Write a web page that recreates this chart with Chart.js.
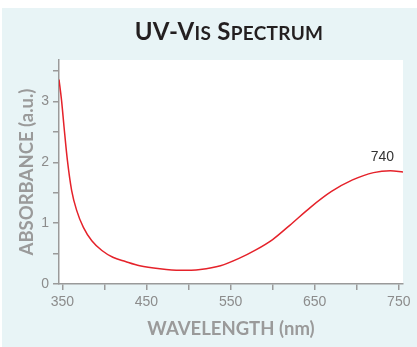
<!DOCTYPE html>
<html>
<head>
<meta charset="utf-8">
<script src="https://cdn.jsdelivr.net/npm/chart.js@4.4.0/dist/chart.umd.min.js"></script>
<style>
    body { margin: 0; background: #fff; }
    .wrap { position: relative; width: 417px; height: 347px; }
    .chart-title {
        position: absolute; left: 229px; top: 19px; transform: translateX(-50%);
        font-family: Lato, "Open Sans", sans-serif; font-weight: 700; font-size: 24px;
        line-height: 1; color: #231f20; white-space: nowrap; letter-spacing: 0.3px;
    }
    .chart-title .sc { font-size: 19px; }
</style>
</head>
<body>
<div class="wrap">
    <canvas id="uvChart" width="417" height="347"></canvas>
    <div class="chart-title">UV-V<span class="sc">IS</span> S<span class="sc">PECTRUM</span></div>
</div>
<script>
// spectrum
const wavelengths = [346, 349, 352, 356, 361, 367, 375, 385, 397, 410, 425, 442, 466, 490, 514, 538, 560, 580, 600, 620, 645, 670, 695, 720, 740, 755];
const absorbance = [3.36, 3.02, 2.58, 2.03, 1.54, 1.21, 0.93, 0.71, 0.55, 0.44, 0.37, 0.30, 0.25, 0.225, 0.24, 0.30, 0.42, 0.56, 0.73, 0.96, 1.26, 1.52, 1.71, 1.83, 1.86, 1.84];
const xTicks = [350, 400, 450, 500, 550, 600, 650, 700, 750];
const xTickLabels = ['350', '', '450', '', '550', '', '650', '', '750'];
const yTicks = [0, 0.5, 1, 1.5, 2, 2.5, 3, 3.5];
const yTickLabels = ['0', '', '1', '', '2', '', '3', ''];
const peakWavelength = 740;
const peakAbsorbance = 1.86;

const axisGray = '#9a9a9a';

// light blue panel + white plot area + peak label
const panelPlugin = {
    id: 'panel',
    beforeDraw(chart) {
        const { ctx, chartArea } = chart;
        ctx.save();
        ctx.fillStyle = '#e8f4f6';
        ctx.fillRect(2, 8, chart.width - 2, chart.height - 8);
        ctx.fillStyle = '#ffffff';
        ctx.fillRect(chartArea.left, chartArea.top, chartArea.right - chartArea.left, chartArea.bottom - chartArea.top);
        ctx.restore();
    },
    afterDatasetsDraw(chart) {
        const { ctx, scales } = chart;
        const px = scales.x.getPixelForValue(peakWavelength);
        const py = scales.y.getPixelForValue(peakAbsorbance);
        ctx.save();
        ctx.fillStyle = '#333';
        ctx.font = '14px "Liberation Sans", Arial, sans-serif';
        ctx.textAlign = 'center';
        ctx.textBaseline = 'middle';
        ctx.fillText(String(peakWavelength), px - 8, py - 14);
        ctx.restore();
    }
};

function initializeSpectrumChart() {
    const ctx = document.getElementById('uvChart');
    const points = wavelengths.map((w, i) => ({ x: w, y: absorbance[i] }));

    new Chart(ctx, {
        type: 'line',
        data: {
            datasets: [{
                data: points,
                borderColor: '#e5222a',
                borderWidth: 1.5,
                pointRadius: 0,
                cubicInterpolationMode: 'monotone',
                fill: false
            }]
        },
        plugins: [panelPlugin],
        options: {
            responsive: false,
            animation: false,
            layout: { padding: { top: 60, right: 14, left: 0, bottom: 0 } },
            plugins: {
                legend: { display: false },
                tooltip: { enabled: false }
            },
            scales: {
                x: {
                    type: 'linear',
                    min: 346,
                    max: 755,
                    afterBuildTicks: (scale) => { scale.ticks = xTicks.map(v => ({ value: v })); },
                    afterFit: (scale) => { scale.height = 63; },
                    ticks: {
                        callback: (v, i) => xTickLabels[i],
                        color: '#8c8c8c',
                        font: { family: '"Liberation Sans", Arial, sans-serif', size: 14 },
                        padding: 4,
                        maxRotation: 0,
                        autoSkip: false
                    },
                    grid: { drawOnChartArea: false, drawTicks: true, tickLength: 6, color: axisGray, lineWidth: 1.5 },
                    border: { display: true, color: axisGray, width: 1.5 },
                    title: {
                        display: true,
                        text: 'WAVELENGTH (nm)',
                        color: '#9a9a9a',
                        font: { family: 'Lato, "Open Sans", sans-serif', size: 18.5, weight: 'bold' },
                        padding: { top: 7, bottom: 7 }
                    }
                },
                y: {
                    min: 0,
                    max: 3.68,
                    afterBuildTicks: (scale) => { scale.ticks = yTicks.map(v => ({ value: v })); },
                    afterFit: (scale) => { scale.width = 59; },
                    ticks: {
                        callback: (v, i) => yTickLabels[i],
                        color: '#8c8c8c',
                        font: { family: '"Liberation Sans", Arial, sans-serif', size: 14 },
                        padding: 4,
                        autoSkip: false
                    },
                    grid: { drawOnChartArea: false, drawTicks: true, tickLength: 6, color: axisGray, lineWidth: 1.5 },
                    border: { display: true, color: axisGray, width: 1.5 },
                    title: {
                        display: true,
                        text: 'ABSORBANCE (a.u.)',
                        color: '#9a9a9a',
                        font: { family: 'Lato, "Open Sans", sans-serif', size: 18.5, weight: 'bold' },
                        padding: { top: 16, bottom: 16 }
                    }
                }
            }
        }
    });
}

document.addEventListener('DOMContentLoaded', () => {
    initializeSpectrumChart();
});
</script>
</body>
</html>
